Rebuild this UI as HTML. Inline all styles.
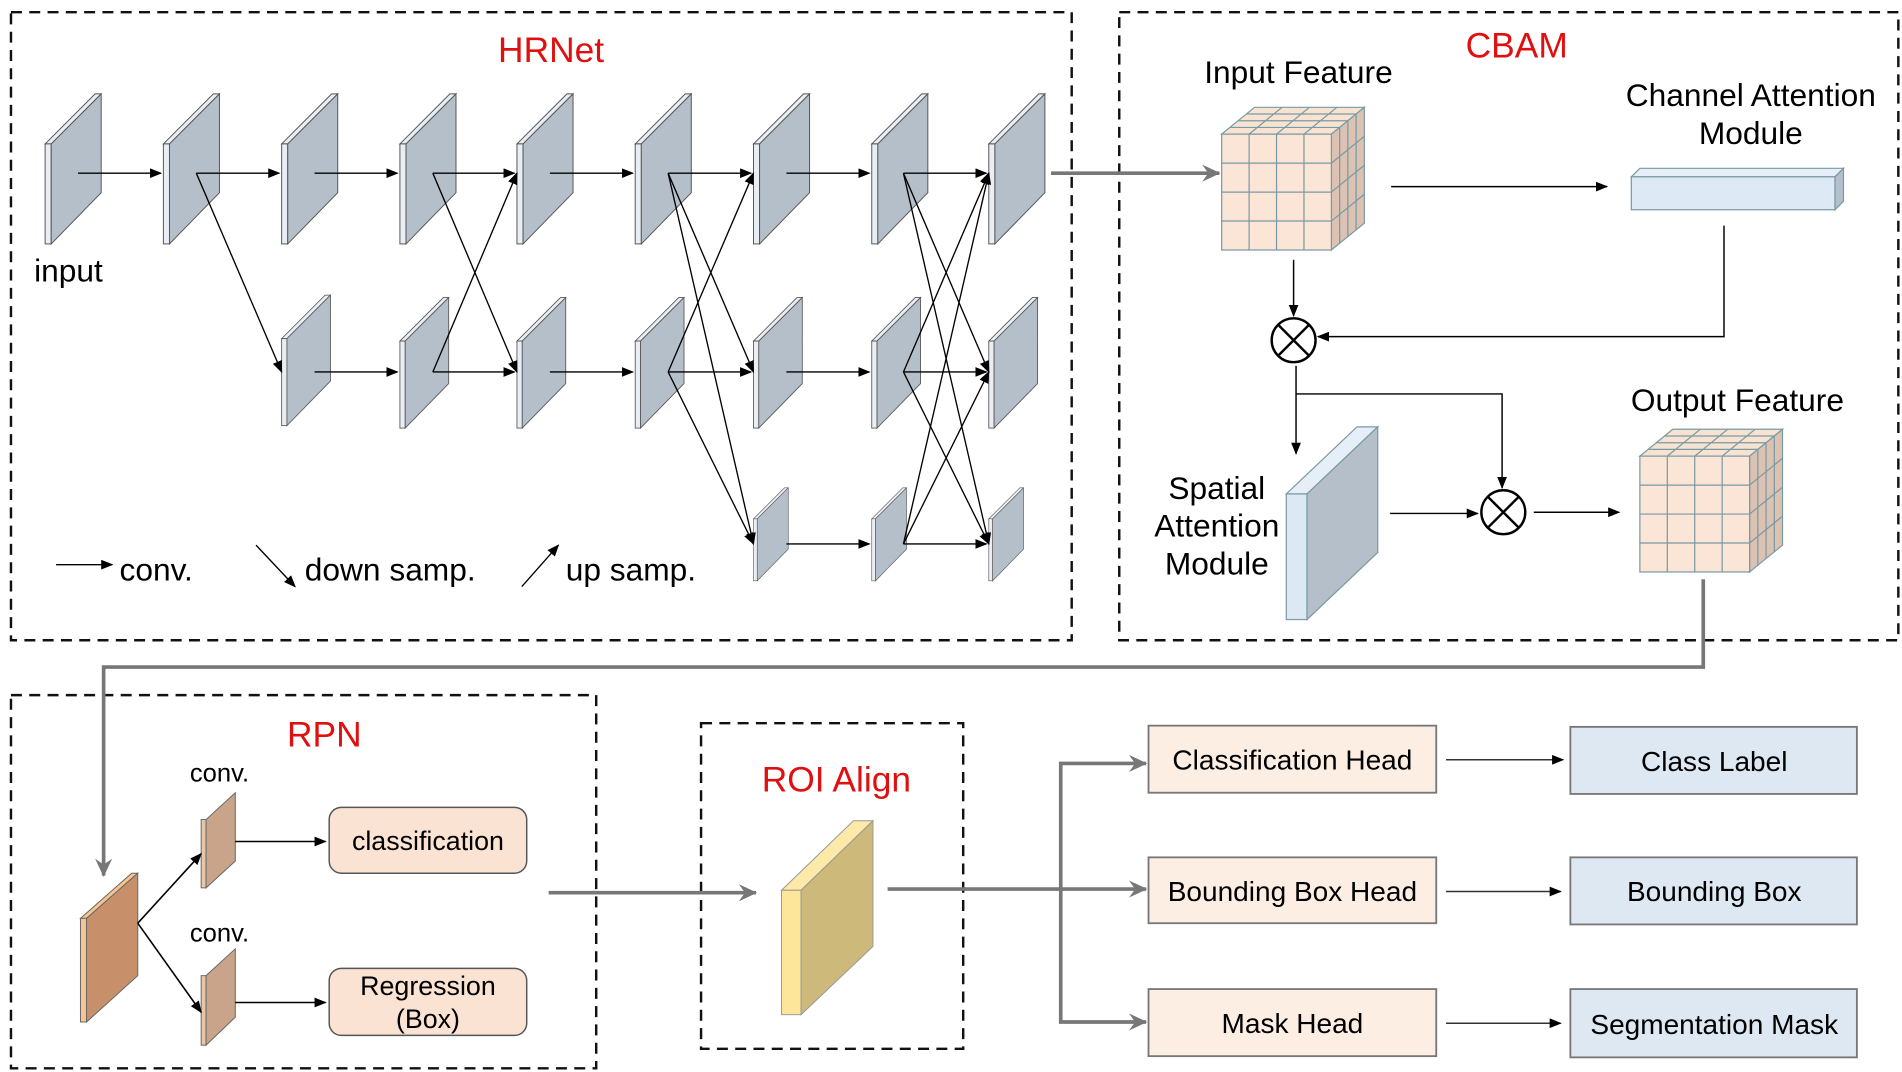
<!DOCTYPE html>
<html><head><meta charset="utf-8"><style>
html,body{margin:0;padding:0;background:#fff;}
svg{display:block;}
text{font-family:"Liberation Sans",sans-serif;}
</style></head><body>
<svg width="1902" height="1072" viewBox="0 0 1560 879" preserveAspectRatio="none" xmlns="http://www.w3.org/2000/svg">
<defs>
<marker id="a" markerWidth="10" markerHeight="8" refX="9" refY="4" orient="auto" markerUnits="userSpaceOnUse"><path d="M0,0 L10,4 L0,8 z" fill="#000"/></marker>
<marker id="g" markerWidth="16" markerHeight="14" refX="14" refY="7" orient="auto" markerUnits="userSpaceOnUse"><path d="M0,0 L15,7 L0,14 L5,7 z" fill="#777"/></marker>
<g id="p">
<polygon points="0,41 41,0 46,0 5,41" fill="#e8eef3" stroke="#555" stroke-width="0.8"/>
<rect x="0" y="41" width="5" height="82" fill="#e8eef3" stroke="#555" stroke-width="0.8"/>
<polygon points="5,41 46,0 46,81 5,123" fill="#b4bfc9" stroke="#555" stroke-width="0.8"/>
</g>
<g id="c" stroke="#7a9aa3" stroke-width="1">
<polygon points="0,22 27,0 117,0 90,22" fill="#f8e3d3"/>
<polygon points="90,22 117,0 117,95 90,117" fill="#dcc2b2"/>
<rect x="0" y="22" width="90" height="95" fill="#fbe5d6"/>
<path d="M22.5,22V117M45,22V117M67.5,22V117M0,45.75H90M0,69.5H90M0,93.25H90M6.75,16.5H96.75M13.5,11H103.5M20.25,5.5H110.25M22.5,22L49.5,0M45,22L72,0M67.5,22L94.5,0M96.75,16.5V111.5M103.5,11V106M110.25,5.5V100.5M90,45.75L117,23.75M90,69.5L117,47.5M90,93.25L117,71.25" fill="none"/>
</g>
</defs>

<g fill="none" stroke="#111" stroke-width="2" stroke-dasharray="9,6">
<rect x="9" y="10" width="870" height="515"/>
<rect x="918" y="10" width="639" height="515"/>
<rect x="9" y="570" width="480" height="306"/>
<rect x="575" y="593" width="215" height="267"/>
</g>

<text x="452" y="51" font-size="29" fill="#e01010" text-anchor="middle">HRNet</text>
<text x="1244" y="47" font-size="29" fill="#e01010" text-anchor="middle">CBAM</text>
<text x="266" y="612" font-size="29" fill="#e01010" text-anchor="middle">RPN</text>
<text x="686" y="649" font-size="29" fill="#e01010" text-anchor="middle">ROI Align</text>

<use href="#p" x="37" y="77"/><use href="#p" x="134" y="77"/><use href="#p" x="231" y="77"/><use href="#p" x="328" y="77"/><use href="#p" x="424" y="77"/><use href="#p" x="521" y="77"/><use href="#p" x="618" y="77"/><use href="#p" x="715" y="77"/><use href="#p" x="811" y="77"/>
<g transform="translate(231,242) scale(0.87)"><use href="#p"/></g>
<g transform="translate(328,244) scale(0.87)"><use href="#p"/></g>
<g transform="translate(424,244) scale(0.87)"><use href="#p"/></g>
<g transform="translate(521,244) scale(0.87)"><use href="#p"/></g>
<g transform="translate(618,244) scale(0.87)"><use href="#p"/></g>
<g transform="translate(715,244) scale(0.87)"><use href="#p"/></g>
<g transform="translate(811,244) scale(0.87)"><use href="#p"/></g>
<g transform="translate(618,400) scale(0.62)"><use href="#p"/></g>
<g transform="translate(715,400) scale(0.62)"><use href="#p"/></g>
<g transform="translate(811,400) scale(0.62)"><use href="#p"/></g>

<g stroke="#000" stroke-width="1.1" fill="none" marker-end="url(#a)">
<line x1="64" y1="142" x2="132" y2="142"/><line x1="161" y1="142" x2="229" y2="142"/><line x1="258" y1="142" x2="326" y2="142"/><line x1="355" y1="142" x2="422" y2="142"/><line x1="451" y1="142" x2="519" y2="142"/><line x1="548" y1="142" x2="616" y2="142"/><line x1="645" y1="142" x2="713" y2="142"/><line x1="741" y1="142" x2="809" y2="142"/>
<line x1="258" y1="305" x2="326" y2="305"/><line x1="355" y1="305" x2="422" y2="305"/><line x1="451" y1="305" x2="519" y2="305"/><line x1="548" y1="305" x2="616" y2="305"/><line x1="645" y1="305" x2="713" y2="305"/><line x1="741" y1="305" x2="809" y2="305"/>
<line x1="645" y1="446" x2="713" y2="446"/><line x1="741" y1="446" x2="809" y2="446"/>
<line x1="161" y1="142" x2="231" y2="305"/><line x1="355" y1="142" x2="424" y2="305"/><line x1="548" y1="142" x2="618" y2="305"/><line x1="548" y1="142" x2="618" y2="446"/><line x1="741" y1="142" x2="811" y2="305"/><line x1="741" y1="142" x2="811" y2="446"/><line x1="548" y1="305" x2="618" y2="446"/><line x1="741" y1="305" x2="811" y2="446"/>
<line x1="355" y1="305" x2="424" y2="142"/><line x1="548" y1="305" x2="618" y2="142"/><line x1="741" y1="305" x2="811" y2="142"/><line x1="741" y1="446" x2="811" y2="142"/><line x1="741" y1="446" x2="811" y2="305"/>
<line x1="46" y1="463" x2="92" y2="463"/><line x1="210" y1="447" x2="242" y2="481"/><line x1="428" y1="481" x2="458" y2="447"/>
</g>
<text x="28" y="231" font-size="26">input</text>
<text x="98" y="476" font-size="26">conv.</text>
<text x="250" y="476" font-size="26">down samp.</text>
<text x="464" y="476" font-size="26">up samp.</text>

<line x1="862" y1="142" x2="1000" y2="142" stroke="#777" stroke-width="3" marker-end="url(#g)"/>

<use href="#c" x="1002" y="88"/>
<use href="#c" x="1345" y="352"/>
<text x="1065" y="68" font-size="26" text-anchor="middle">Input Feature</text>
<text x="1436" y="87" font-size="26" text-anchor="middle">Channel Attention</text>
<text x="1436" y="118" font-size="26" text-anchor="middle">Module</text>
<text x="1425" y="337" font-size="26" text-anchor="middle">Output Feature</text>
<text x="998" y="409" font-size="26" text-anchor="middle">Spatial</text>
<text x="998" y="440" font-size="26" text-anchor="middle">Attention</text>
<text x="998" y="471" font-size="26" text-anchor="middle">Module</text>
<g stroke="#7a9aa3" stroke-width="1">
<polygon points="1338,145 1345,138 1512,138 1505,145" fill="#e6eff8"/>
<polygon points="1505,145 1512,138 1512,165 1505,172" fill="#b4c1cc"/>
<rect x="1338" y="145" width="167" height="27" fill="#dde9f5"/>
<polygon points="1055,405 1113,350 1130,350 1072,405" fill="#e6eff8"/>
<rect x="1055" y="405" width="17" height="103" fill="#dce9f5"/>
<polygon points="1072,405 1130,350 1130,453 1072,508" fill="#b4bfc9"/>
</g>
<g stroke="#000" stroke-width="1.2" fill="none">
<line x1="1141" y1="153" x2="1318" y2="153" marker-end="url(#a)"/>
<polyline points="1414,185 1414,276 1081,276" marker-end="url(#a)"/>
<line x1="1061" y1="213" x2="1061" y2="259" marker-end="url(#a)"/>
<line x1="1063" y1="300" x2="1063" y2="372" marker-end="url(#a)"/>
<polyline points="1063,323 1232,323 1232,400" marker-end="url(#a)"/>
<line x1="1140" y1="421" x2="1212" y2="421" marker-end="url(#a)"/>
<line x1="1258" y1="420" x2="1328" y2="420" marker-end="url(#a)"/>
</g>
<g stroke="#000" stroke-width="2" fill="#fff">
<circle cx="1061" cy="279" r="18"/><path d="M1048,266L1074,292M1074,266L1048,292"/>
<circle cx="1233" cy="420" r="18"/><path d="M1220,407L1246,433M1246,407L1220,433"/>
</g>

<polyline points="1397,475 1397,547 85,547 85,718" fill="none" stroke="#777" stroke-width="3" marker-end="url(#g)"/>

<g stroke="#666" stroke-width="0.8">
<polygon points="66,753 108,716 113,716 71,753" fill="#f5c48f"/>
<rect x="66" y="753" width="5" height="85" fill="#f5c48f"/>
<polygon points="71,753 113,716 113,800 71,838" fill="#c8906a"/>
<rect x="165" y="672" width="4" height="56" fill="#e8c7a8"/>
<polygon points="169,672 193,650 193,706 169,728" fill="#c9a48a"/>
<rect x="165" y="800" width="4" height="57" fill="#e8c7a8"/>
<polygon points="169,800 193,778 193,834 169,857" fill="#c9a48a"/>
</g>
<text x="180" y="641" font-size="21" text-anchor="middle">conv.</text>
<text x="180" y="772" font-size="21" text-anchor="middle">conv.</text>
<g stroke="#000" stroke-width="1.3" fill="none" marker-end="url(#a)">
<line x1="113" y1="757" x2="165" y2="700"/><line x1="113" y1="757" x2="165" y2="830"/>
<line x1="193" y1="690" x2="267" y2="690"/><line x1="193" y1="822" x2="267" y2="822"/>
</g>
<rect x="270" y="662" width="162" height="54" rx="10" fill="#fbe3d3" stroke="#555" stroke-width="1.2"/>
<rect x="270" y="794" width="162" height="55" rx="10" fill="#fbe3d3" stroke="#555" stroke-width="1.2"/>
<text x="351" y="697" font-size="22" text-anchor="middle">classification</text>
<text x="351" y="816" font-size="22" text-anchor="middle">Regression</text>
<text x="351" y="843" font-size="22" text-anchor="middle">(Box)</text>

<line x1="450" y1="732" x2="620" y2="732" stroke="#777" stroke-width="3" marker-end="url(#g)"/>

<g stroke="#999" stroke-width="0.8">
<polygon points="641,730 700,673 716,673 657,730" fill="#fde9a8"/>
<rect x="641" y="730" width="16" height="102" fill="#fde59a"/>
<polygon points="657,730 716,673 716,776 657,832" fill="#cdb97a"/>
</g>
<g stroke="#777" stroke-width="3" fill="none">
<line x1="728" y1="729" x2="940" y2="729" marker-end="url(#g)"/>
<polyline points="870,729 870,626 940,626" marker-end="url(#g)"/>
<polyline points="870,729 870,838 940,838" marker-end="url(#g)"/>
</g>

<g stroke="#777" stroke-width="1.5">
<rect x="942" y="595" width="236" height="55" fill="#fdeee4"/>
<rect x="942" y="703" width="236" height="54" fill="#fdeee4"/>
<rect x="942" y="811" width="236" height="55" fill="#fdeee4"/>
<rect x="1288" y="596" width="235" height="55" fill="#dde8f3"/>
<rect x="1288" y="703" width="235" height="55" fill="#dde8f3"/>
<rect x="1288" y="811" width="235" height="56" fill="#dde8f3"/>
</g>
<g stroke="#333" stroke-width="1.2" marker-end="url(#a)">
<line x1="1186" y1="623" x2="1282" y2="623"/>
<line x1="1186" y1="731" x2="1280" y2="731"/>
<line x1="1186" y1="839" x2="1280" y2="839"/>
</g>
<g font-size="23" text-anchor="middle">
<text x="1060" y="631">Classification Head</text>
<text x="1060" y="739">Bounding Box Head</text>
<text x="1060" y="847">Mask Head</text>
<text x="1406" y="632">Class Label</text>
<text x="1406" y="739">Bounding Box</text>
<text x="1406" y="848">Segmentation Mask</text>
</g>
</svg>
</body></html>
